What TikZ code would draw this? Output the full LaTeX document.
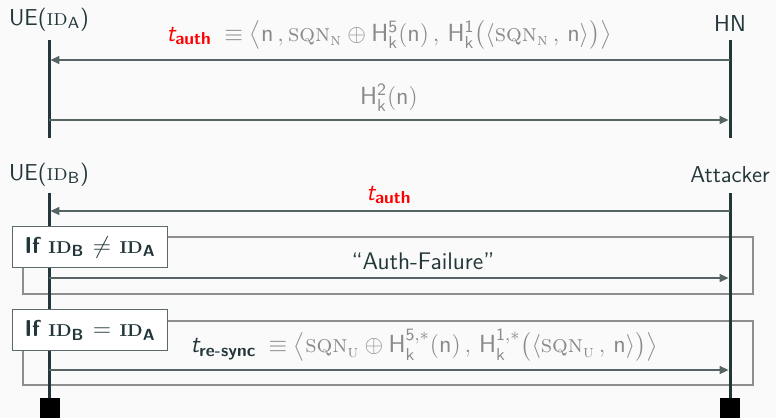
\documentclass[tikz,border=0pt]{standalone}
\usepackage{fontspec}
\usepackage{amsmath}
\usetikzlibrary{arrows.meta,positioning}
\definecolor{Ink}{HTML}{23373B}
\definecolor{Paper}{HTML}{FAFAFA}
\definecolor{Wire}{HTML}{566466}
\definecolor{Frame}{HTML}{8E8E8E}
\definecolor{Muted}{HTML}{8A8A8A}
\definecolor{Alert}{HTML}{FF0000}
\newcommand{\idn}[1]{{\rmfamily\textsc{id}}$_{\textsf{#1}}$}
\newcommand{\idbold}[1]{{\rmfamily\bfseries\fontsize{8.6}{10}\selectfont ID}$_{\textsf{\bfseries #1}}$}
\newcommand{\sqn}[1]{\text{\rmfamily\textsc{sqn}}_{\text{\rmfamily\textsc{#1}}}}
\newcommand{\hk}[1]{\mathsf{H}^{\mathsf{#1}}_{\mathsf{k}}}
\newcommand{\hks}[1]{\mathsf{H}^{\mathsf{#1},*}_{\mathsf{k}}}
\newcommand{\tsub}[1]{\text{\sffamily\itshape t}_{\text{\sffamily\bfseries #1}}}
\tikzset{
  actor/.style={text=Ink, inner sep=0pt},
  life/.style={line width=1.5pt, draw=Ink},
  wire/.style={-{Triangle[length=4.5pt,width=4pt]}, line width=0.75pt, draw=Wire, shorten >=0.7pt},
  msg/.style={text=Muted, inner sep=0pt, font=\sffamily\fontsize{12}{14}\selectfont},
  formula/.style={msg, font=\sffamily\fontsize{12.4}{14}\selectfont},
  frame/.style={draw=Frame, line width=1pt},
  guard/.style={
    draw=Ink!75, fill=white, line width=0.6pt, text=Ink,
    minimum width=77.5pt, minimum height=20.5pt, inner sep=2pt,
    font=\sffamily\bfseries\fontsize{11.5}{14}\selectfont
  },
  stopbox/.style={fill=black, minimum size=10pt, inner sep=0pt}
}
\begin{document}
\begin{tikzpicture}[x=0.5pt,y=-0.5pt,
    every node/.style={font=\sffamily\fontsize{11.5}{14}\selectfont}]
  \fill[Paper] (0,0) rectangle (776,418);
  \useasboundingbox (0,0) rectangle (776,418);

  % upper run: UE(A) and HN
  \node[actor,anchor=base] (ueA) at (49,25) {UE(\idn{A})};
  \node[actor,anchor=base] (hn) at (730,31) {HN};
  \coordinate (ueA top) at (49,40);
  \coordinate (ueA end) at (49,138);
  \coordinate (hn top) at (730,40);
  \coordinate (hn end) at (730,138);
  \draw[life] (ueA top) -- (ueA end);
  \draw[life] (hn top) -- (hn end);

  \coordinate (m1a) at (730,60);
  \coordinate (m1b) at (49,60);
  \draw[wire] (m1a) -- (m1b);
  \node[formula] (l1) at (389,35)
    {$\color{Alert}\tsub{auth}$\enspace$\equiv\big\langle\mathsf{n}\,,\sqn{n}\oplus\hk{5}(\mathsf{n})\,,\,\hk{1}\big(\langle\sqn{n}\,,\,\mathsf{n}\rangle\big)\big\rangle$};

  \coordinate (m2a) at (49,120);
  \coordinate (m2b) at (730,120);
  \draw[wire] (m2a) -- (m2b);
  \node[formula] (l2) at (389,98) {$\hk{2}(\mathsf{n})$};

  % lower run: UE(B) and attacker
  \draw[frame] (23,237) rectangle (753,294);
  \draw[frame] (23,321) rectangle (753,385);

  \node[actor,anchor=base] (ueB) at (49,180) {UE(\idn{B})};
  \node[actor,anchor=base] (atk) at (730,182) {Attacker};
  \coordinate (ueB top) at (49,193);
  \coordinate (ueB end) at (49,400);
  \coordinate (atk top) at (730,193);
  \coordinate (atk end) at (730,400);
  \draw[life] (ueB top) -- (ueB end);
  \draw[life] (atk top) -- (atk end);

  \coordinate (m3a) at (730,211);
  \coordinate (m3b) at (49,211);
  \draw[wire] (m3a) -- (m3b);
  \node[formula,text=Alert] (l3) at (389,195) {$\tsub{auth}$};

  \coordinate (m4a) at (49,278);
  \coordinate (m4b) at (730,278);
  \draw[wire] (m4a) -- (m4b);
  \node[msg,text=Ink] (l4) at (423,261) {``Auth-Failure''};

  \coordinate (m5a) at (49,370);
  \coordinate (m5b) at (730,370);
  \draw[wire] (m5a) -- (m5b);
  \node[formula] (l5) at (424,345)
    {$\color{Ink}\tsub{re-sync}$\enspace$\equiv\big\langle\sqn{u}\oplus\hks{5}(\mathsf{n})\,,\,\hks{1}\big(\langle\sqn{u}\,,\,\mathsf{n}\rangle\big)\big\rangle$};

  % guards
  \node[guard,anchor=north west] (g1) at (12,226) {If \idbold{B} $\neq$ \idbold{A}};
  \node[guard,anchor=north west] (g2) at (12,309) {If \idbold{B} $=$ \idbold{A}};

  % ends
  \node[stopbox] (ueB stop) at (50,408) {};
  \node[stopbox] (atk stop) at (730,408) {};
\end{tikzpicture}
\end{document}
